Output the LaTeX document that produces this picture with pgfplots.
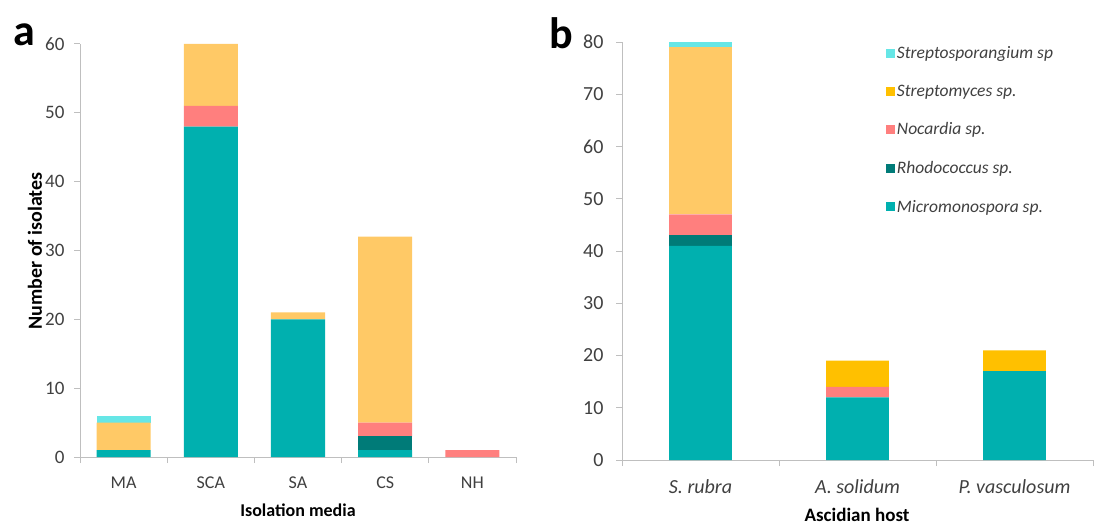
\documentclass[border=0pt]{standalone}
\usepackage{pgfplots}
\pgfplotsset{compat=1.18}
\usepackage{fontspec}
\setmainfont{Carlito}
\definecolor{micro}{HTML}{00B0AF}
\definecolor{rhodo}{HTML}{007B78}
\definecolor{noca}{HTML}{FF7F7E}
\definecolor{strlight}{HTML}{FFC966}
\definecolor{strdark}{HTML}{FFC000}
\definecolor{sporang}{HTML}{66E6E6}
\definecolor{axgray}{HTML}{BFBFBF}
\definecolor{txt}{HTML}{404040}
\pgfplotsset{
  common/.style={
    scale only axis,
    ybar stacked,
    axis x line*=bottom,
    axis y line*=left,
    axis line style={axgray, line width=1pt},
    tick style={axgray, line width=1pt},
    tick align=outside,
    major tick length=6pt,
    minor tick length=6pt,
    major x tick style={draw=none},
    ymin=0,
    ytick distance=10,
    /pgf/number format/assume math mode=true,
    tick label style={text=txt},
    every axis plot/.append style={draw=none},
    clip=false,
  }
}
\begin{document}
\begin{tikzpicture}[x=1pt,y=1pt]
\useasboundingbox (0,0) rectangle (1099,527);
% panel a
\begin{axis}[common,
  at={(80pt,70pt)}, anchor=south west,
  width=436pt, height=413pt,
  xmin=-0.5, xmax=4.5, ymax=60,
  bar width=0.62,
  xtick={0,1,2,3,4},
  xticklabels={MA,SCA,SA,CS,NH},
  minor xtick={-0.5,0.5,1.5,2.5,3.5,4.5},
  xticklabel style={font=\fontsize{18}{20}\selectfont, yshift=-10pt},
  yticklabel style={font=\fontsize{19}{22}\selectfont, xshift=-6pt},
]
\addplot[fill=micro] coordinates {(0,1) (1,48) (2,20) (3,1) (4,0)};
\addplot[fill=rhodo] coordinates {(0,0) (1,0) (2,0) (3,2) (4,0)};
\addplot[fill=noca] coordinates {(0,0) (1,3) (2,0) (3,2) (4,1)};
\addplot[fill=strlight] coordinates {(0,4) (1,9) (2,1) (3,27) (4,0)};
\addplot[fill=sporang] coordinates {(0,1) (1,0) (2,0) (3,0) (4,0)};
\end{axis}
% panel b
\begin{axis}[common,
  at={(622pt,67pt)}, anchor=south west,
  width=471pt, height=418pt,
  xmin=-0.5, xmax=2.5, ymax=80,
  bar width=0.4,
  xtick={0,1,2},
  xticklabels={\textit{S. rubra},\textit{A. solidum},\textit{P. vasculosum}},
  minor xtick={-0.5,0.5,1.5,2.5},
  xticklabel style={font=\fontsize{20}{23}\selectfont, yshift=-10pt},
  yticklabel style={font=\fontsize{20}{23}\selectfont, xshift=-9pt},
  reverse legend,
  legend style={draw=none, fill=none, at={(0.56,0.995)}, anchor=north west,
    font=\fontsize{17.5}{21}\selectfont\itshape, text=txt,
    row sep=21pt, inner sep=0pt},
  legend cell align=left,
  legend image code/.code={\path[#1] (0pt,-4.5pt) rectangle (9pt,4.5pt);},
]
\addplot[fill=micro] coordinates {(0,41) (1,12) (2,17)};
\addlegendentry{Micromonospora sp.}
\addplot[fill=rhodo] coordinates {(0,2) (1,0) (2,0)};
\addlegendentry{Rhodococcus sp.}
\addplot[fill=noca] coordinates {(0,4) (1,2) (2,0)};
\addlegendentry{Nocardia sp.}
\addplot[fill=strlight, forget plot] coordinates {(0,32) (1,0) (2,0)};
\addplot[fill=strdark] coordinates {(0,0) (1,5) (2,4)};
\addlegendentry{Streptomyces sp.}
\addplot[fill=sporang] coordinates {(0,1) (1,0) (2,0)};
\addlegendentry{Streptosporangium sp}
\end{axis}
\node[font=\fontsize{44}{48}\selectfont\bfseries] at (24,492) {a};
\node[font=\fontsize{44}{48}\selectfont\bfseries] at (561,494) {b};
\node[rotate=90, font=\fontsize{20}{22}\selectfont\bfseries] at (35,276) {Number of isolates};
\node[font=\fontsize{18}{20}\selectfont\bfseries] at (298,17) {Isolation media};
\node[font=\fontsize{19}{20}\selectfont\bfseries] at (857,12) {Ascidian host};
\end{tikzpicture}
\end{document}
